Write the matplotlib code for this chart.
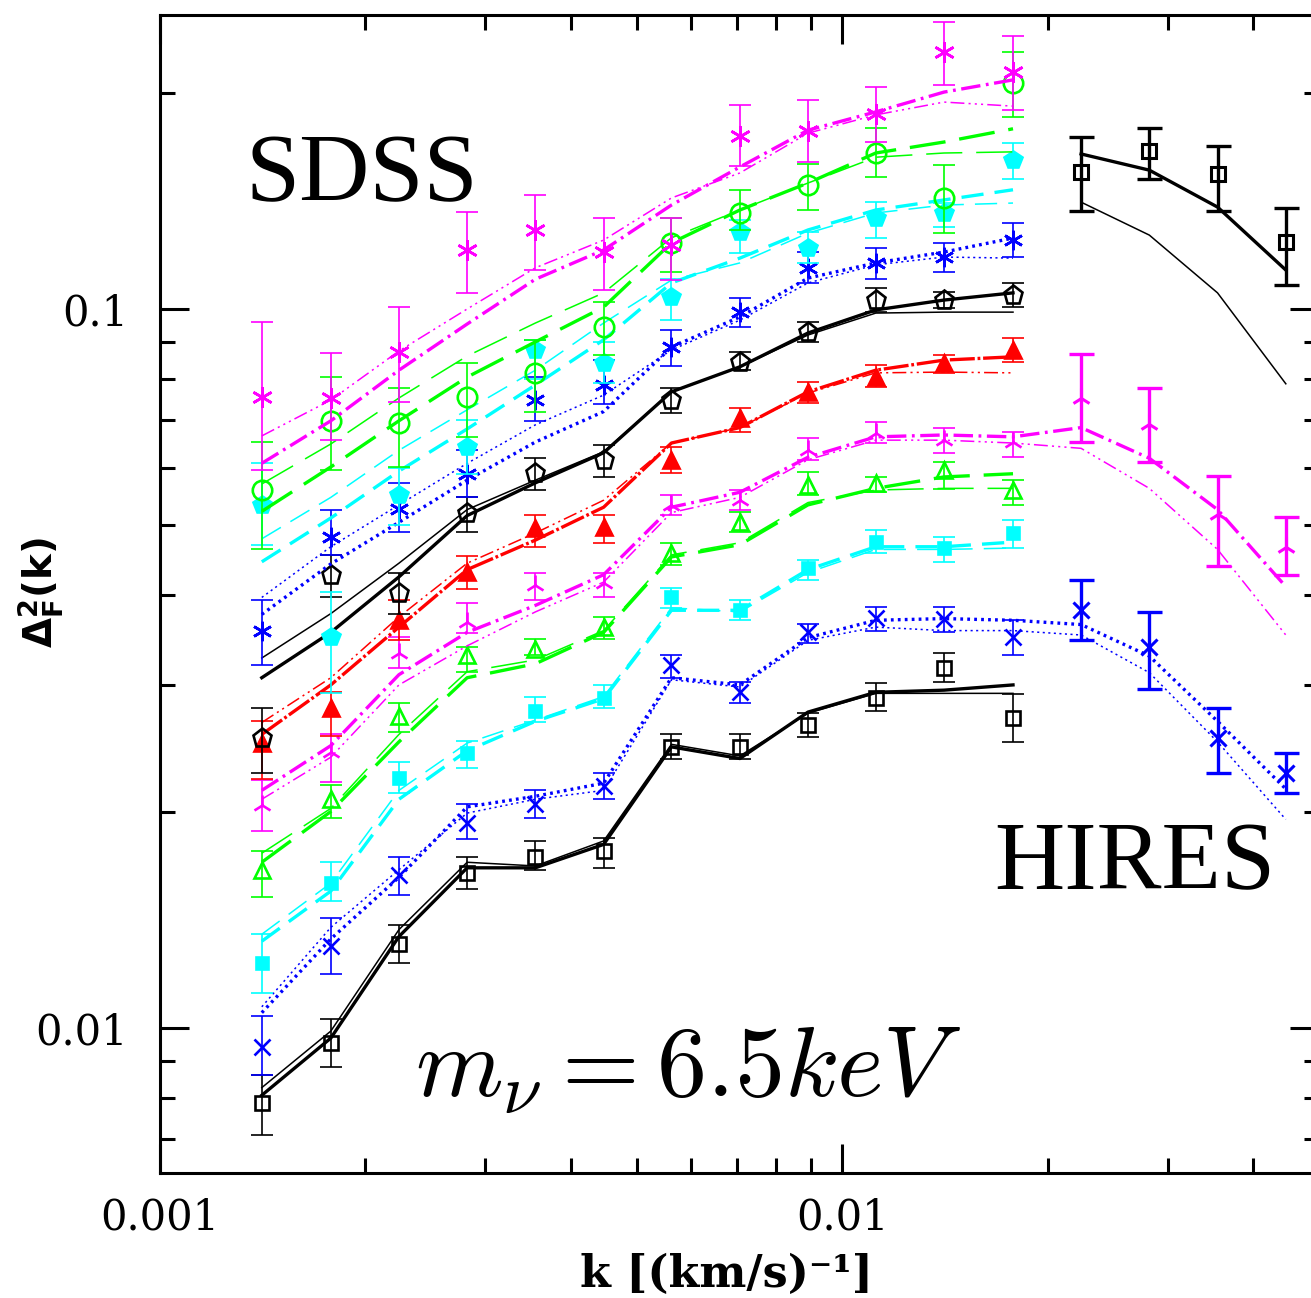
import matplotlib
matplotlib.use("Agg")
import matplotlib.pyplot as plt
from matplotlib.ticker import LogLocator, FuncFormatter, NullFormatter
import numpy as np

# k values of the SDSS and HIRES bins
k_sdss = [0.00141, 0.00178, 0.00224, 0.00282, 0.00355, 0.00447,
          0.00562, 0.00708, 0.00891, 0.0112, 0.0141, 0.0178]
k_hires = [0.0224, 0.0282, 0.0355, 0.0447]

# SDSS bin 1 (black squares)
s1_y = [0.00787, 0.00954, 0.0131, 0.0164, 0.0173, 0.0176, 0.0246, 0.0246, 0.0264, 0.0288, 0.0317, 0.0270]
s1_lo = [0.00710, 0.00882, 0.0123, 0.0156, 0.0166, 0.0167, 0.0237, 0.0237, 0.0254, 0.0276, 0.0303, 0.0250]
s1_hi = [0.00861, 0.0103, 0.0139, 0.0173, 0.0182, 0.0184, 0.0256, 0.0256, 0.0274, 0.0302, 0.0332, 0.0291]
s1_m1 = [0.00806, 0.00968, 0.0134, 0.0167, 0.0167, 0.0180, 0.0246, 0.0237, 0.0275, 0.0293, 0.0295, 0.0300]
s1_m2 = [0.00826, 0.00990, 0.0137, 0.0170, 0.0168, 0.0182, 0.0248, 0.0239, 0.0274, 0.0292, 0.0292, 0.0292]

# SDSS bin 2 (blue x), models continue over the HIRES range
s2_y = [0.00942, 0.0130, 0.0163, 0.0193, 0.0205, 0.0217, 0.0320, 0.0293, 0.0355, 0.0372, 0.0371, 0.0350]
s2_lo = [0.00861, 0.0119, 0.0153, 0.0183, 0.0196, 0.0208, 0.0307, 0.0283, 0.0343, 0.0357, 0.0355, 0.0330]
s2_hi = [0.0104, 0.0142, 0.0173, 0.0205, 0.0214, 0.0226, 0.0330, 0.0303, 0.0365, 0.0385, 0.0385, 0.0369]
s2_m1 = [0.0105, 0.0133, 0.0162, 0.0203, 0.0210, 0.0219, 0.0307, 0.0300, 0.0349, 0.0369, 0.0371, 0.0369,
         0.0364, 0.0329, 0.0267, 0.0215]
s2_m2 = [0.0107, 0.0138, 0.0166, 0.0199, 0.0208, 0.0214, 0.0305, 0.0298, 0.0346, 0.0361, 0.0357, 0.0357,
         0.0352, 0.0312, 0.0250, 0.0195]

# SDSS bin 3 (cyan squares)
s3_y = [0.0123, 0.0159, 0.0223, 0.0241, 0.0276, 0.0288, 0.0398, 0.0381, 0.0436, 0.0474, 0.0465, 0.0488]
s3_lo = [0.0112, 0.0150, 0.0212, 0.0230, 0.0266, 0.0279, 0.0384, 0.0369, 0.0420, 0.0458, 0.0445, 0.0465]
s3_hi = [0.0135, 0.0170, 0.0234, 0.0251, 0.0289, 0.0300, 0.0409, 0.0394, 0.0448, 0.0493, 0.0482, 0.0509]
s3_m1 = [0.0132, 0.0155, 0.0208, 0.0243, 0.0267, 0.0287, 0.0381, 0.0381, 0.0434, 0.0467, 0.0467, 0.0474]
s3_m2 = [0.0135, 0.0159, 0.0214, 0.0249, 0.0268, 0.0289, 0.0384, 0.0379, 0.0430, 0.0463, 0.0463, 0.0465]

# SDSS bin 4 (green open triangles)
s4_y = [0.0166, 0.0208, 0.0272, 0.0330, 0.0337, 0.0361, 0.0458, 0.0506, 0.0569, 0.0573, 0.0597, 0.0560]
s4_lo = [0.0152, 0.0196, 0.0258, 0.0313, 0.0330, 0.0348, 0.0441, 0.0490, 0.0552, 0.0556, 0.0562, 0.0534]
s4_hi = [0.0176, 0.0218, 0.0283, 0.0339, 0.0348, 0.0373, 0.0473, 0.0522, 0.0593, 0.0584, 0.0612, 0.0578]
s4_m1 = [0.0170, 0.0200, 0.0250, 0.0307, 0.0321, 0.0355, 0.0452, 0.0470, 0.0534, 0.0563, 0.0584, 0.0590]
s4_m2 = [0.0175, 0.0202, 0.0256, 0.0313, 0.0325, 0.0357, 0.0455, 0.0473, 0.0538, 0.0560, 0.0563, 0.0563]

# SDSS bin 5 (magenta tri), models continue over the HIRES range
s5_y = [0.0204, 0.0242, 0.0332, 0.0367, 0.0413, 0.0416, 0.0534, 0.0542, 0.0637, 0.0672, 0.0657, 0.0653]
s5_lo = [0.0188, 0.0220, 0.0317, 0.0354, 0.0394, 0.0398, 0.0517, 0.0526, 0.0617, 0.0651, 0.0631, 0.0622]
s5_hi = [0.0221, 0.0256, 0.0350, 0.0390, 0.0430, 0.0430, 0.0551, 0.0560, 0.0662, 0.0696, 0.0683, 0.0674]
s5_m1 = [0.0214, 0.0247, 0.0310, 0.0355, 0.0387, 0.0427, 0.0530, 0.0556, 0.0622, 0.0664, 0.0668, 0.0664,
         0.0684, 0.0620, 0.0526, 0.0411]
s5_m2 = [0.0208, 0.0238, 0.0300, 0.0340, 0.0379, 0.0417, 0.0521, 0.0547, 0.0617, 0.0657, 0.0657, 0.0651,
         0.0640, 0.0563, 0.0463, 0.0352]

# SDSS bin 6 (red filled triangles)
s6_y = [0.0249, 0.0279, 0.0369, 0.0431, 0.0496, 0.0498, 0.0617, 0.0705, 0.0767, 0.0804, 0.0841, 0.0877]
s6_lo = [0.0222, 0.0255, 0.0346, 0.0408, 0.0467, 0.0473, 0.0591, 0.0674, 0.0740, 0.0779, 0.0815, 0.0844]
s6_hi = [0.0267, 0.0293, 0.0394, 0.0453, 0.0517, 0.0517, 0.0643, 0.0728, 0.0792, 0.0836, 0.0863, 0.0911]
s6_m1 = [0.0256, 0.0300, 0.0361, 0.0434, 0.0477, 0.0530, 0.0651, 0.0684, 0.0767, 0.0822, 0.0849, 0.0858]
s6_m2 = [0.0266, 0.0307, 0.0373, 0.0443, 0.0488, 0.0542, 0.0651, 0.0684, 0.0764, 0.0815, 0.0817, 0.0815]

# SDSS bin 7 (black pentagons)
s7_y = [0.0253, 0.0427, 0.0403, 0.0520, 0.0591, 0.0617, 0.0747, 0.0844, 0.0929, 0.1029, 0.1029, 0.1046]
s7_lo = [0.0226, 0.0398, 0.0377, 0.0490, 0.0560, 0.0584, 0.0717, 0.0822, 0.0900, 0.0991, 0.1003, 0.1006]
s7_hi = [0.0279, 0.0455, 0.0430, 0.0548, 0.0621, 0.0647, 0.0777, 0.0871, 0.0959, 0.1069, 0.1056, 0.1087]
s7_m1 = [0.0307, 0.0355, 0.0424, 0.0516, 0.0573, 0.0631, 0.0767, 0.0831, 0.0926, 0.0997, 0.1029, 0.1053]
s7_m2 = [0.0327, 0.0377, 0.0443, 0.0526, 0.0578, 0.0633, 0.0767, 0.0831, 0.0920, 0.0987, 0.0990, 0.0990]

# SDSS bin 8 (blue asterisks)
s8_y = [0.0357, 0.0482, 0.0527, 0.0589, 0.0747, 0.0784, 0.0885, 0.0990, 0.1141, 0.1159, 0.1181, 0.1247]
s8_lo = [0.0320, 0.0455, 0.0489, 0.0547, 0.0699, 0.0737, 0.0834, 0.0944, 0.1087, 0.1101, 0.1126, 0.1181]
s8_hi = [0.0394, 0.0526, 0.0573, 0.0636, 0.0804, 0.0849, 0.0935, 0.1036, 0.1200, 0.1216, 0.1236, 0.1318]
s8_m1 = [0.0376, 0.0442, 0.0505, 0.0578, 0.0653, 0.0720, 0.0885, 0.0975, 0.1104, 0.1159, 0.1200, 0.1255]
s8_m2 = [0.0397, 0.0467, 0.0534, 0.0610, 0.0690, 0.0759, 0.0877, 0.0965, 0.1087, 0.1152, 0.1181, 0.1177]

# SDSS bin 9 (cyan pentagons)
s9_y = [0.0534, 0.0350, 0.0552, 0.0643, 0.0877, 0.0841, 0.1040, 0.1280, 0.1216, 0.1338, 0.1360, 0.1612]
s9_lo = [0.0470, 0.0292, 0.0500, 0.0590, 0.0800, 0.0790, 0.0965, 0.1196, 0.1159, 0.1255, 0.1300, 0.1515]
s9_hi = [0.0610, 0.0404, 0.0600, 0.0700, 0.0906, 0.0900, 0.1101, 0.1330, 0.1280, 0.1410, 0.1404, 0.1700]
s9_m1 = [0.0445, 0.0512, 0.0595, 0.0681, 0.0784, 0.0906, 0.1087, 0.1177, 0.1288, 0.1373, 0.1418, 0.1465]
s9_m2 = [0.0479, 0.0547, 0.0636, 0.0724, 0.0822, 0.0956, 0.1097, 0.1159, 0.1275, 0.1360, 0.1395, 0.1404]

# SDSS bin 10 (green open circles)
s10_y = [0.0560, 0.0699, 0.0694, 0.0755, 0.0815, 0.0944, 0.1236, 0.1360, 0.1487, 0.1648, 0.1427, 0.2063]
s10_lo = [0.0463, 0.0597, 0.0603, 0.0664, 0.0720, 0.0863, 0.1126, 0.1288, 0.1373, 0.1526, 0.1275, 0.1849]
s10_hi = [0.0653, 0.0804, 0.0777, 0.0841, 0.0906, 0.1023, 0.1338, 0.1465, 0.1591, 0.1785, 0.1584, 0.2277]
s10_m1 = [0.0523, 0.0603, 0.0699, 0.0804, 0.0900, 0.1006, 0.1236, 0.1373, 0.1497, 0.1648, 0.1707, 0.1781]
s10_m2 = [0.0571, 0.0649, 0.0752, 0.0860, 0.0956, 0.1053, 0.1256, 0.1373, 0.1497, 0.1626, 0.1648, 0.1654]

# SDSS bin 11 (magenta asterisks)
s11_y = [0.0755, 0.0751, 0.0871, 0.1208, 0.1288, 0.1200, 0.1227, 0.1741, 0.1770, 0.1870, 0.2275, 0.2137]
s11_lo = [0.0598, 0.0657, 0.0742, 0.1052, 0.1133, 0.1063, 0.1097, 0.1580, 0.1600, 0.1707, 0.2046, 0.1890]
s11_hi = [0.0960, 0.0868, 0.1006, 0.1364, 0.1440, 0.1340, 0.1340, 0.1922, 0.1950, 0.2034, 0.2508, 0.2396]
s11_m1 = [0.0610, 0.0699, 0.0822, 0.0953, 0.1100, 0.1208, 0.1395, 0.1576, 0.1773, 0.1880, 0.2003, 0.2083]
s11_m2 = [0.0666, 0.0747, 0.0874, 0.1000, 0.1141, 0.1247, 0.1427, 0.1546, 0.1756, 0.1862, 0.1940, 0.1915]

# HIRES data
h1_y = [0.1551, 0.1659, 0.1541, 0.1239]
h1_lo = [0.1367, 0.1517, 0.1367, 0.1080]
h1_hi = [0.1734, 0.1785, 0.1685, 0.1381]
h1_m1 = [0.1643, 0.1560, 0.1386, 0.1133]
h1_m2 = [0.1408, 0.1267, 0.1053, 0.0787]

h2_y = [0.0752, 0.0692, 0.0519, 0.0466]
h2_lo = [0.0653, 0.0612, 0.0439, 0.0427]
h2_hi = [0.0866, 0.0777, 0.0586, 0.0513]

h3_y = [0.0381, 0.0339, 0.0253, 0.0226]
h3_lo = [0.0346, 0.0296, 0.0226, 0.0212]
h3_hi = [0.0420, 0.0379, 0.0279, 0.0241]

BLACK, BLUE, CYAN, GREEN, MAGENTA, RED = "#000000", "#0000ff", "#00ffff", "#00ff00", "#ff00ff", "#ff0000"
ASTER = (6, 2, 0)

plt.rcParams["lines.scale_dashes"] = False

# dash patterns (thick model, thin model)
LS = {
    BLACK: ("-", "-"),
    BLUE: ((0, (2, 3)), (0, (1.5, 2.5))),
    CYAN: ((0, (16, 8)), (0, (16, 8))),
    GREEN: ((0, (26, 10)), (0, (26, 10))),
    MAGENTA: ((0, (14, 4, 2, 4)), (0, (10, 3, 1.5, 3, 1.5, 3, 1.5, 3))),
    RED: ((0, (18, 2, 2, 2)), (0, (10, 3, 1.5, 3, 1.5, 3))),
}

# (y, lo, hi, model thick, model thin, colour, marker, size, filled)
sdss = [
    (s1_y, s1_lo, s1_hi, s1_m1, s1_m2, BLACK, "s", 10, False),
    (s2_y, s2_lo, s2_hi, s2_m1, s2_m2, BLUE, "x", 11, True),
    (s3_y, s3_lo, s3_hi, s3_m1, s3_m2, CYAN, "s", 9, True),
    (s4_y, s4_lo, s4_hi, s4_m1, s4_m2, GREEN, "^", 11, False),
    (s5_y, s5_lo, s5_hi, s5_m1, s5_m2, MAGENTA, "2", 14, True),
    (s6_y, s6_lo, s6_hi, s6_m1, s6_m2, RED, "^", 11, True),
    (s7_y, s7_lo, s7_hi, s7_m1, s7_m2, BLACK, "p", 14, False),
    (s8_y, s8_lo, s8_hi, s8_m1, s8_m2, BLUE, ASTER, 14, True),
    (s9_y, s9_lo, s9_hi, s9_m1, s9_m2, CYAN, "p", 13, True),
    (s10_y, s10_lo, s10_hi, s10_m1, s10_m2, GREEN, "o", 14, False),
    (s11_y, s11_lo, s11_hi, s11_m1, s11_m2, MAGENTA, ASTER, 15, True),
]

fig = plt.figure(figsize=(13.11, 12.98), dpi=100)
ax = fig.add_axes([160 / 1311, 125 / 1298, 1159 / 1311, 1158 / 1298])
ax.set_xscale("log")
ax.set_yscale("log")

k_all = k_sdss + k_hires

for y, lo, hi, m1, m2, col, mk, ms, filled in sdss:
    kk = k_all[:len(m1)]
    ax.plot(kk, m1, color=col, lw=2.4, ls=LS[col][0])
    ax.plot(kk, m2, color=col, lw=1.1, ls=LS[col][1])
    y = np.array(y)
    yerr = [y - np.array(lo), np.array(hi) - y]
    ax.errorbar(k_sdss, y, yerr=yerr, fmt="none", ecolor=col, elinewidth=1.2,
                capsize=8, capthick=1.2)
    ax.plot(k_sdss, y, ls="none", marker=mk, ms=ms, color=col, mew=1.9,
            mfc=col if filled else "none")

# HIRES
ax.plot(k_hires, h1_m1, color=BLACK, lw=2.4)
ax.plot(k_hires, h1_m2, color=BLACK, lw=1.1)
for y, lo, hi, col, mk, ms in [(h1_y, h1_lo, h1_hi, BLACK, "s", 10),
                               (h2_y, h2_lo, h2_hi, MAGENTA, "2", 14),
                               (h3_y, h3_lo, h3_hi, BLUE, "x", 11)]:
    y = np.array(y)
    yerr = [y - np.array(lo), np.array(hi) - y]
    ax.errorbar(k_hires, y, yerr=yerr, fmt="none", ecolor=col, elinewidth=2.4,
                capsize=9, capthick=2.4)
    ax.plot(k_hires, y, ls="none", marker=mk, ms=ms, color=col, mew=2.2, mfc="none")

ax.set_xlim(0.001, 0.05)
ax.set_ylim(0.006284, 0.2564)

for s in ax.spines.values():
    s.set_linewidth(2.2)

fmt = FuncFormatter(lambda v, p: "%g" % v)
for axis in (ax.xaxis, ax.yaxis):
    axis.set_major_locator(LogLocator(base=10))
    axis.set_minor_locator(LogLocator(base=10, subs=range(2, 10)))
    axis.set_major_formatter(fmt)
    axis.set_minor_formatter(NullFormatter())
ax.tick_params(which="both", direction="in", top=True, right=True, width=2.2)
ax.tick_params(which="major", length=21)
ax.tick_params(which="minor", length=11)
ax.tick_params(axis="x", pad=17)
ax.tick_params(axis="y", pad=23)
for lab in ax.get_xticklabels() + ax.get_yticklabels():
    lab.set_fontfamily("DejaVu Serif")
    lab.set_fontsize(30)

fig.text(727 / 1311, 1 - 1274 / 1298, "k [(km/s)\u207b\u00b9]", ha="center", va="center",
         fontsize=32, fontweight="bold", family="DejaVu Serif")
fig.text(41 / 1311, 1 - 593 / 1298, r"$\mathbf{\Delta^2_F(k)}$", rotation=90,
         ha="center", va="center", fontsize=28, math_fontfamily="dejavusans")

fig.text(245 / 1311, 1 - 201 / 1298, "SDSS", family="Liberation Serif", fontsize=70,
         va="baseline", ha="left")
fig.text(994 / 1311, 1 - 889 / 1298, "HIRES", family="Liberation Serif", fontsize=70,
         va="baseline", ha="left")
fig.text(415 / 1311, 1 - 1097 / 1298, r"$m_{\nu}=6.5keV$", fontsize=72,
         va="baseline", ha="left", math_fontfamily="cm")

fig.savefig("out.png", dpi=100)
